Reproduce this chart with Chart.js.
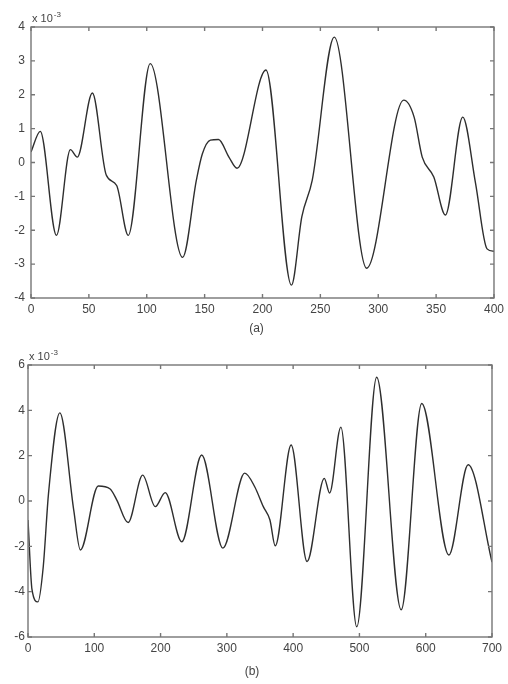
<!DOCTYPE html>
<html>
<head>
<meta charset="utf-8">
<script src="https://cdn.jsdelivr.net/npm/chart.js@4.4.0/dist/chart.umd.min.js"></script>
<style>
body { margin: 0; background: #fff; }
.panel { position: absolute; left: 0; width: 508px; height: 342px; }
</style>
</head>
<body>
<div class="panel" style="top:0"><canvas id="chartA"></canvas></div>
<div class="panel" style="top:342px"><canvas id="chartB"></canvas></div>
<script>
// signal (a), amplitude in units of 1e-3
var xA = [0, 8, 22, 34, 40, 53, 65, 74, 84, 103, 131, 143, 148, 155, 162, 171, 178, 203, 225, 234, 243, 262, 290, 322, 331, 338, 348, 358, 373, 384, 394, 400];
var yA = [0.31, 0.92, -2.15, 0.38, 0.16, 2.05, -0.37, -0.68, -2.15, 2.92, -2.8, -0.5, 0.25, 0.66, 0.68, 0.16, -0.17, 2.73, -3.62, -1.6, -0.52, 3.7, -3.12, 1.84, 1.34, 0.16, -0.43, -1.55, 1.34, -0.6, -2.55, -2.62];

// signal (b), amplitude in units of 1e-3
var xB = [0, 6, 15, 23, 31, 48, 69, 79, 106, 124, 134, 151, 173, 192, 207, 232, 262, 294, 327, 342, 355, 365, 373, 397, 421, 447, 455, 472, 496, 526, 563, 594, 635, 664, 700];
var yB = [-0.84, -3.9, -4.45, -2.9, 0.35, 3.89, -0.4, -2.16, 0.66, 0.53, 0.04, -0.95, 1.14, -0.25, 0.37, -1.8, 2.03, -2.08, 1.23, 0.63, -0.25, -0.84, -1.98, 2.47, -2.67, 1.0, 0.35, 3.26, -5.55, 5.46, -4.8, 4.3, -2.38, 1.6, -2.7];

var xTicksA = [0, 50, 100, 150, 200, 250, 300, 350, 400];
var yTicksA = [-4, -3, -2, -1, 0, 1, 2, 3, 4];
var xTicksB = [0, 100, 200, 300, 400, 500, 600, 700];
var yTicksB = [-6, -4, -2, 0, 2, 4, 6];

var FONT = '"Liberation Sans", Arial, sans-serif';

// box frame with inward ticks, exponent note and panel caption
var boxPlugin = {
  id: 'matlabBox',
  afterDraw: function(chart, args, opts) {
    var ctx = chart.ctx, a = chart.chartArea;
    var xs = chart.scales.x, ys = chart.scales.y;
    ctx.save();
    ctx.strokeStyle = '#767676';
    ctx.lineWidth = 1.4;
    ctx.strokeRect(a.left, a.top, a.right - a.left, a.bottom - a.top);
    ctx.beginPath();
    xs.ticks.forEach(function(t) {
      var px = xs.getPixelForValue(t.value);
      ctx.moveTo(px, a.bottom); ctx.lineTo(px, a.bottom - 4);
      ctx.moveTo(px, a.top); ctx.lineTo(px, a.top + 4);
    });
    ys.ticks.forEach(function(t) {
      var py = ys.getPixelForValue(t.value);
      ctx.moveTo(a.left, py); ctx.lineTo(a.left + 4, py);
      ctx.moveTo(a.right, py); ctx.lineTo(a.right - 4, py);
    });
    ctx.stroke();

    ctx.fillStyle = '#444';
    ctx.textBaseline = 'alphabetic';
    ctx.font = '11px ' + FONT;
    ctx.fillText('x 10', a.left + 1, a.top - 5);
    var w = ctx.measureText('x 10').width;
    ctx.font = '8px ' + FONT;
    ctx.fillText(opts.exponent, a.left + 2 + w, a.top - 10);

    ctx.font = '12px ' + FONT;
    ctx.textAlign = 'center';
    ctx.textBaseline = 'middle';
    ctx.fillText(opts.caption, (a.left + a.right) / 2 + opts.captionShift, opts.captionY);
    ctx.restore();
  }
};

function makeChart(id, xs, ys, xTicks, yTicks, box, frame) {
  var pts = xs.map(function(x, i) { return { x: x, y: ys[i] }; });
  return new Chart(document.getElementById(id), {
    type: 'line',
    data: {
      datasets: [{
        data: pts,
        borderColor: '#2e2e2e',
        borderWidth: 1.4,
        pointRadius: 0,
        cubicInterpolationMode: 'monotone',
        fill: false
      }]
    },
    options: {
      responsive: true,
      maintainAspectRatio: false,
      animation: false,
      layout: { padding: { top: frame.top, right: frame.right, left: 0, bottom: 0 } },
      plugins: {
        legend: { display: false },
        tooltip: { enabled: false },
        matlabBox: box
      },
      scales: {
        x: {
          type: 'linear',
          min: xTicks[0],
          max: xTicks[xTicks.length - 1],
          afterBuildTicks: function(s) { s.ticks = xTicks.map(function(v) { return { value: v }; }); },
          afterFit: function(s) { s.height = frame.bottom; },
          grid: { display: false, drawTicks: false },
          border: { display: false },
          ticks: { padding: 4, maxRotation: 0, color: '#444', font: { family: FONT, size: 12 } }
        },
        y: {
          min: yTicks[0],
          max: yTicks[yTicks.length - 1],
          afterBuildTicks: function(s) { s.ticks = yTicks.map(function(v) { return { value: v }; }); },
          afterFit: function(s) { s.width = frame.left; },
          grid: { display: false, drawTicks: false },
          border: { display: false },
          ticks: { padding: frame.labelGap, color: '#444', font: { family: FONT, size: 12 } }
        }
      }
    },
    plugins: [boxPlugin]
  });
}

makeChart('chartA', xA, yA, xTicksA, yTicksA,
  { exponent: '-3', caption: '(a)', captionShift: -6, captionY: 329 },
  { top: 27, right: 13, left: 31, bottom: 44, labelGap: 6 });

makeChart('chartB', xB, yB, xTicksB, yTicksB,
  { exponent: '-3', caption: '(b)', captionShift: -8, captionY: 330 },
  { top: 23, right: 16, left: 28, bottom: 47, labelGap: 3 });
</script>
</body>
</html>
